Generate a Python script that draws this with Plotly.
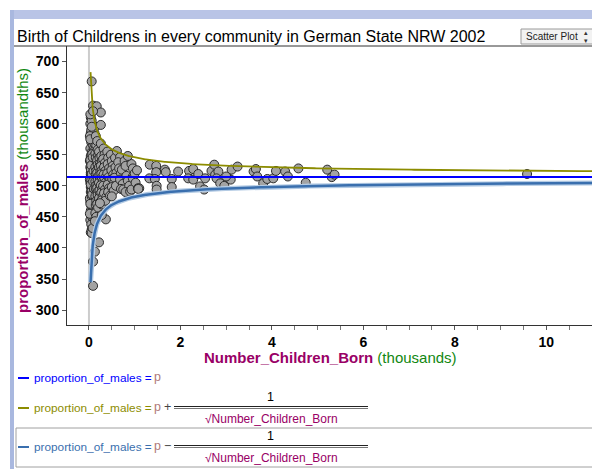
import plotly.graph_objects as go
import numpy as np

# ---------------- data ----------------
# Number_Children_Born (thousands) per community
births_k = [
    # very small communities
    0.03, 0.04, 0.05, 0.03, 0.06, 0.04, 0.05, 0.03, 0.07, 0.04, 0.06, 0.03, 0.05, 0.04, 0.06, 0.03,
    0.05, 0.04, 0.06, 0.03, 0.05, 0.07, 0.08, 0.09, 0.07, 0.08, 0.09, 0.07, 0.08, 0.09, 0.07, 0.08,
    0.09, 0.07, 0.08, 0.09, 0.07, 0.08, 0.09, 0.07, 0.08, 0.10, 0.11, 0.10, 0.11, 0.10, 0.11, 0.10,
    0.11, 0.10, 0.11, 0.10, 0.11, 0.10, 0.11, 0.10, 0.11, 0.10, 0.12, 0.12, 0.12, 0.12, 0.12, 0.12,
    0.12, 0.12, 0.12, 0.12, 0.04, 0.06, 0.05, 0.02, 0.02, 0.02, 0.02, 0.02, 0.06, 0.04,
    # dense core
    0.04, 0.05, 0.06, 0.07, 0.08, 0.09, 0.10, 0.11, 0.12, 0.13, 0.04, 0.05, 0.06, 0.07, 0.08, 0.09,
    0.10, 0.11, 0.12, 0.13, 0.05, 0.06, 0.07, 0.08, 0.09, 0.10, 0.11, 0.12, 0.13, 0.14, 0.05, 0.06,
    0.07, 0.08, 0.09, 0.10, 0.11, 0.12, 0.13, 0.14, 0.15, 0.16, 0.17, 0.18, 0.19, 0.20, 0.21, 0.15,
    0.16, 0.17, 0.18, 0.19, 0.20, 0.21, 0.22, 0.23, 0.15, 0.17, 0.19, 0.21, 0.23, 0.25, 0.27, 0.29,
    0.31, 0.33, 0.35, 0.37, 0.39, 0.26, 0.30, 0.34, 0.38, 0.42, 0.46, 0.03, 0.03, 0.04, 0.05, 0.06,
    0.03, 0.04, 0.05, 0.06, 0.07, 0.08, 0.09, 0.03, 0.04, 0.05, 0.06, 0.07, 0.08, 0.09, 0.10, 0.11,
    # small communities
    0.14, 0.15, 0.16, 0.14, 0.15, 0.17, 0.14, 0.16, 0.15, 0.17, 0.14, 0.16, 0.15, 0.17, 0.14, 0.16,
    0.15, 0.17, 0.14, 0.16, 0.18, 0.19, 0.20, 0.18, 0.19, 0.21, 0.18, 0.20, 0.19, 0.21, 0.18, 0.20,
    0.19, 0.21, 0.18, 0.20, 0.22, 0.23, 0.24, 0.22, 0.25, 0.23, 0.24, 0.22, 0.25, 0.23, 0.24, 0.22,
    0.25, 0.26, 0.27, 0.28, 0.26, 0.29, 0.27, 0.28, 0.30, 0.26, 0.29, 0.27, 0.30, 0.28, 0.28,
    # medium-small
    0.32, 0.34, 0.31, 0.35, 0.33, 0.36, 0.32, 0.34, 0.37, 0.31, 0.35, 0.33, 0.38, 0.36, 0.40, 0.42,
    0.41, 0.44, 0.40, 0.43, 0.45, 0.41, 0.44, 0.42, 0.46, 0.48, 0.50, 0.52, 0.49, 0.53, 0.51, 0.55,
    0.50, 0.54, 0.57, 0.58, 0.60, 0.56, 0.59, 0.61, 0.68,
    # medium
    0.64, 0.66, 0.70, 0.72, 0.68, 0.74, 0.70, 0.75, 0.78, 0.80, 0.82, 0.85, 0.88, 0.80, 0.90, 0.93,
    0.96, 0.96, 0.96, 0.93, 1.00, 1.02, 1.07, 1.10, 1.05, 0.85,
    # larger towns / cities
    1.33, 1.47, 1.47, 1.32, 1.44, 1.48, 1.48, 1.08, 1.66, 1.68, 1.95, 1.81, 1.81, 2.19, 2.28, 2.17,
    2.28, 2.39, 2.43, 2.52, 2.54, 2.68, 2.74, 2.76, 2.83, 2.79, 2.87, 2.96, 3.05, 3.10, 3.12, 3.25,
    3.00, 3.60, 3.65, 3.68, 3.81, 3.90, 4.03, 4.09, 4.29, 4.35, 4.58, 4.74, 5.21, 5.31, 5.37, 9.58,
    # outliers
    0.06, 0.09, 0.17, 0.26, 0.09, 0.26, 0.06, 0.09, 0.09, 0.13, 0.22, 0.06, 0.08, 0.13, 0.37, 0.28,
    0.24, 0.50,
]

# proportion_of_males (thousandths)
males_k = [
    600, 585, 570, 560, 552, 545, 538, 530, 525, 518, 512, 505, 498, 490, 482, 475,
    468, 460, 452, 445, 438, 592, 578, 565, 555, 548, 540, 533, 527, 520, 514, 508,
    502, 495, 488, 480, 473, 466, 458, 450, 462, 575, 560, 550, 543, 535, 528, 522,
    516, 510, 504, 497, 490, 484, 477, 470, 463, 455, 448, 585, 568, 556, 537, 525,
    512, 500, 487, 472, 610, 605, 590, 580, 540, 510, 480, 455, 430, 425,
    # dense core
    521, 506, 534, 492, 517, 503, 529, 486, 511, 540, 498, 526, 483, 513, 545, 509,
    494, 531, 519, 478, 536, 514, 499, 523, 487, 541, 507, 529, 496, 518, 547, 488,
    512, 533, 502, 524, 481, 515, 535, 506, 527, 492, 514, 537, 503, 520, 498, 512,
    489, 525, 508, 517, 533, 495, 521, 510, 501, 538, 486, 522, 509, 528, 497, 516,
    504, 521, 493, 515, 507, 544, 503, 532, 521, 499, 517, 615, 575, 548, 520, 497,
    542, 527, 509, 493, 551, 516, 484, 471, 502, 533, 519, 486, 546, 507, 524, 495,
    # small communities
    595, 580, 565, 552, 545, 538, 530, 524, 518, 513, 507, 501, 495, 489, 483, 476,
    469, 462, 456, 450, 572, 558, 548, 541, 534, 528, 521, 515, 509, 503, 497, 491,
    485, 478, 471, 465, 555, 545, 536, 530, 523, 517, 511, 505, 499, 493, 486, 480,
    474, 568, 548, 540, 532, 526, 519, 513, 507, 501, 495, 489, 483, 477, 470,
    # medium-small
    560, 550, 543, 537, 530, 524, 518, 512, 506, 500, 494, 488, 482, 476, 555, 545,
    535, 528, 520, 514, 508, 502, 496, 490, 484, 550, 540, 532, 525, 518, 511, 505,
    498, 492, 545, 530, 521, 513, 500, 556, 546,
    # medium
    538, 528, 520, 526, 510, 503, 495, 494, 540, 532, 516, 508, 500, 490, 491, 535,
    528, 515, 512, 494, 520, 505, 496, 496, 525, 548,
    # larger towns / cities
    534, 532, 522, 512, 511, 500, 494, 495, 526, 522, 523, 511, 498, 524, 527, 512,
    510, 519, 499, 494, 512, 524, 534, 518, 523, 512, 504, 500, 512, 510, 526, 531,
    515, 523, 527, 515, 504, 511, 512, 524, 523, 515, 528, 505, 526, 514, 518, 519,
    # outliers
    668, 629, 628, 618, 620, 598, 595, 339, 378, 394, 409, 424, 432, 443, 446, 453,
    472, 483,
]

p_hat = 514              # proportion_of_males = p  (thousandths)
curve_start = 0.035      # first x where the ±1/sqrt(N) curves are drawn
curve_end = 11.3

x_ticks = [0, 2, 4, 6, 8, 10]
y_ticks = [300, 350, 400, 450, 500, 550, 600, 650, 700]

# ---------------- geometry helpers ----------------
W, H = 592, 469
PL, PR, PT, PB = 67, 592, 46, 325

def fx(px):
    return (px - PL) / (PR - PL)

def fy(py):
    return (PB - py) / (PB - PT)

FONT = "Liberation Sans, Arial, sans-serif"
PURPLE = "#990066"
GREEN = "#118811"
BLUE = "#0000ff"
OLIVE = "#8c8c00"
STEEL = "#3a6fae"
PCOL = "#b07a7a"

xc = np.geomspace(curve_start, curve_end, 600)
upper = p_hat + 1000.0 / np.sqrt(1000.0 * xc)
lower = p_hat - 1000.0 / np.sqrt(1000.0 * xc)

fig = go.Figure()

fig.add_trace(go.Scatter(
    x=births_k, y=males_k, mode="markers",
    marker=dict(size=9, color="#a3a3a3", line=dict(color="#2a2a2a", width=1)),
    hoverinfo="skip", showlegend=False, cliponaxis=True))

fig.add_trace(go.Scatter(x=[-1, 12], y=[p_hat, p_hat], mode="lines",
                         line=dict(color=BLUE, width=2), showlegend=False))
fig.add_trace(go.Scatter(x=xc, y=upper, mode="lines",
                         line=dict(color=OLIVE, width=1.8), showlegend=False))
fig.add_trace(go.Scatter(x=xc, y=lower, mode="lines",
                         line=dict(color="#b4cbe4", width=5), showlegend=False))
fig.add_trace(go.Scatter(x=xc, y=lower, mode="lines",
                         line=dict(color=STEEL, width=2.5), showlegend=False))

shapes = []
shapes.append(dict(type="line", xref="x", yref="paper", x0=0, x1=0, y0=0, y1=1,
                   line=dict(color="#cccccc", width=2), layer="below"))
shapes.append(dict(type="rect", xref="paper", yref="paper", x0=fx(10), x1=fx(600),
                   y0=fy(19), y1=fy(10), fillcolor="#b9c4e6", line=dict(width=0), layer="below"))
shapes.append(dict(type="rect", xref="paper", yref="paper", x0=fx(10), x1=fx(14),
                   y0=fy(472), y1=fy(10), fillcolor="#a9b8df", line=dict(width=0), layer="below"))
shapes.append(dict(type="line", xref="paper", yref="paper", x0=fx(14), x1=fx(600),
                   y0=fy(46), y1=fy(46), line=dict(color="#333333", width=1)))
shapes.append(dict(type="rect", xref="paper", yref="paper", x0=fx(521), x1=fx(600),
                   y0=fy(44), y1=fy(29), fillcolor="#f2f2f2",
                   line=dict(color="#9a9a9a", width=1)))
shapes.append(dict(type="rect", xref="paper", yref="paper", x0=fx(16), x1=fx(600),
                   y0=fy(467), y1=fy(428), fillcolor="rgba(0,0,0,0)",
                   line=dict(color="#a0a0a0", width=1)))
for yy, col in [(378, BLUE), (408, OLIVE), (447, STEEL)]:
    shapes.append(dict(type="line", xref="paper", yref="paper", x0=fx(18), x1=fx(29),
                       y0=fy(yy), y1=fy(yy), line=dict(color=col, width=2)))
for yy in (406.5, 445.5):
    shapes.append(dict(type="line", xref="paper", yref="paper", x0=fx(174), x1=fx(368),
                       y0=fy(yy), y1=fy(yy), line=dict(color="#222222", width=1)))
    shapes.append(dict(type="line", xref="paper", yref="paper", x0=fx(174), x1=fx(368),
                       y0=fy(yy + 2), y1=fy(yy + 2), line=dict(color="#777777", width=1)))

ann = []
def txt(text, px, py, size=12, color="black", xanchor="left", weight="normal", angle=0):
    ann.append(dict(text=text, x=fx(px), y=fy(py), xref="paper", yref="paper",
                    xanchor=xanchor, yanchor="middle", showarrow=False, textangle=angle,
                    font=dict(family=FONT, size=size, color=color, weight=weight)))

txt("Birth of Childrens in every community in German State NRW 2002", 15, 36, size=16)
txt("Scatter Plot", 524, 36.5, size=10, color="#222222")
txt("▴", 586, 33, size=7, color="#333333", xanchor="center")
txt("▾", 586, 40, size=7, color="#333333", xanchor="center")

txt(f"<b><span style='color:{PURPLE}'>Number_Children_Born</span></b>"
    f"<span style='color:{GREEN}'> (thousands)</span>", 330, 357.5, size=15, xanchor="center")
txt(f"<b><span style='color:{PURPLE}'>proportion_of_males</span></b>"
    f"<span style='color:{GREEN}'> (thousandths)</span>", 22, 191, size=15,
    xanchor="center", angle=-90)

for yy, col, op in [(378, BLUE, None), (408, OLIVE, "+"), (447, STEEL, "−")]:
    txt("proportion_of_males =", 32, yy, size=11.8, color=col)
    txt("p", 152, yy - 1, size=12.5, color=PCOL)
    if op:
        txt(op, 162, yy - 1, size=12.5, color="#444444")
        txt("1", 270, yy - 11, size=12.5, color="black", xanchor="center")
        txt("√Number_Children_Born", 271, yy + 11, size=12, color=PURPLE, xanchor="center")

fig.update_layout(
    width=W, height=H,
    margin=dict(l=PL, r=W - PR, t=PT, b=H - PB, pad=0),
    paper_bgcolor="white", plot_bgcolor="white",
    showlegend=False,
    shapes=shapes, annotations=ann,
    xaxis=dict(range=[-0.48, 11.0], tickvals=x_ticks, ticks="outside", ticklen=4,
               tickcolor="#555555", showline=True, linecolor="#333333", linewidth=1,
               showgrid=False, zeroline=False,
               tickfont=dict(family=FONT, size=14, color="black", weight="bold"),
               minor=dict(dtick=0.5, ticks="outside", ticklen=4, tickcolor="#777777"),
               fixedrange=True),
    yaxis=dict(range=[276, 725], tickvals=y_ticks, ticks="outside", ticklen=4,
               tickcolor="#555555", showline=True, linecolor="#333333", linewidth=1,
               showgrid=False, zeroline=False,
               tickfont=dict(family=FONT, size=14, color="black", weight="bold"),
               fixedrange=True),
)

fig.write_html("out.html")
